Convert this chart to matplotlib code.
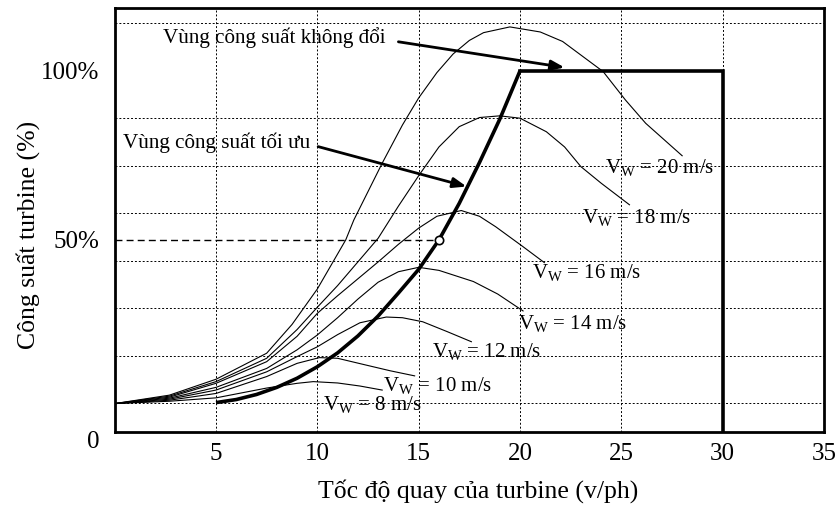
import matplotlib
matplotlib.use("Agg")
import matplotlib.pyplot as plt

plt.rcParams['font.family'] = ['Liberation Serif', 'DejaVu Serif']
plt.rcParams['mathtext.fontset'] = 'custom'
plt.rcParams['mathtext.rm'] = 'Liberation Serif'
plt.rcParams['mathtext.it'] = 'Liberation Serif:italic'

# --- turbine power curves (percent of rated power) ---
v8_x = [0, 2.7, 5, 7.5, 9, 9.8, 11, 12.1, 13.2]
v8_y = [1.6, 2.3, 3.3, 6.2, 7.6, 8.1, 7.7, 6.8, 5.6]

v10_x = [0, 2.7, 5, 7.5, 9, 10.1, 11, 12.4, 13.6, 14.8]
v10_y = [1.6, 2.6, 4.6, 9.6, 13.5, 15.2, 15.0, 13.0, 11.3, 9.8]

v12_x = [0, 2.7, 5, 7.5, 9, 10, 11, 12.1, 13.4, 14.2, 15.2, 16.4, 17.6]
v12_y = [1.6, 2.9, 5.6, 11.0, 15.5, 18.4, 22.0, 25.5, 27.2, 27.0, 25.8, 22.9, 19.9]

v14_x = [0, 2.7, 5, 7.5, 9, 10, 11, 12, 13, 14, 15.0, 16.0, 17.7, 18.9, 20.15]
v14_y = [1.6, 3.2, 6.4, 12.0, 17.5, 21.9, 27.0, 32.5, 37.5, 40.6, 41.9, 41.0, 37.7, 34.0, 29.0]

v16_x = [0, 2.7, 5, 7.5, 9, 10, 11, 12, 13, 14, 15, 15.9, 17.1, 18, 18.8, 20.15, 21.2]
v16_y = [1.6, 3.5, 7.6, 14.0, 21.5, 28.3, 33.5, 38.5, 43.5, 48.7, 53.5, 57.0, 58.7, 57.0, 53.9, 48.0, 43.3]

v18_x = [0, 2.7, 5, 7.5, 9, 10, 11, 12, 13, 14, 15, 16, 17, 18, 19, 20, 21.3, 22.2, 23.0, 24, 25.4]
v18_y = [1.6, 3.8, 8.1, 15.0, 23.5, 30.1, 36.5, 43.5, 50.5, 60.0, 69.0, 77.5, 83.5, 86.2, 86.7, 86, 82, 77.5, 71.7, 66.8, 60.4]

v20_x = [0, 2.7, 5, 7.5, 8.75, 10, 11.4, 11.8, 13.2, 14.2, 15, 15.9, 16.7, 17.5, 18.2, 19.5, 21, 22.1, 24.1, 25.2, 26.2, 28.0]
v20_y = [1.6, 4.1, 8.8, 16.5, 25.0, 35.5, 50.0, 55.9, 72.7, 84.0, 92.0, 99.5, 105.0, 109.0, 111.3, 113, 111.5, 108.7, 99.8, 91.4, 84.5, 74.9]

curves = [(v8_x, v8_y), (v10_x, v10_y), (v12_x, v12_y), (v14_x, v14_y),
          (v16_x, v16_y), (v18_x, v18_y), (v20_x, v20_y)]
speed_labels = ['8', '10', '12', '14', '16', '18', '20']

# optimal power curve and constant power region
opt_x = [5, 6, 7, 8, 9, 10, 11, 12, 13, 14, 15, 16, 17, 18, 19, 20]
opt_y = [1.9, 2.8, 4.3, 6.4, 9.1, 12.5, 16.6, 21.6, 27.5, 34.3, 41.3, 50.0, 60.8, 72.9, 85.7, 100]
const_x = [20, 30, 30]
const_y = [100, 100, -6.8]
rated_pt = (16, 50)

x_ticks = [5, 10, 15, 20, 25, 30, 35]
y_ticks = [50, 100]
y_ticklabels = ['50%', '100%']
y_grid = [1.65, 15.7, 29.75, 43.8, 57.85, 71.9, 85.95, 100, 114.05]

fig = plt.figure(figsize=(8.37, 5.08), dpi=100)
ax = fig.add_axes([0.137, 0.1496, 0.8475, 0.8347])

for cx, cy in curves:
    ax.plot(cx, cy, color='k', lw=0.8, zorder=3)

ax.plot(opt_x, opt_y, color='k', lw=2.6, solid_capstyle='butt', zorder=4)
ax.plot(const_x, const_y, color='k', lw=2.6, solid_joinstyle='miter', zorder=4)
ax.plot([0, rated_pt[0]], [rated_pt[1], rated_pt[1]], color='k', lw=1.0,
        dashes=(5, 3), zorder=3)
ax.plot(*rated_pt, marker='o', ms=6, mfc='white', mec='k', mew=1.2, zorder=5)

ax.set_xlim(0, 35)
ax.set_ylim(-6.8, 118.6)
ax.set_xticks(x_ticks)
ax.set_yticks(y_ticks)
ax.set_yticklabels(y_ticklabels)
ax.set_yticks(y_grid, minor=True)
ax.tick_params(axis='both', which='both', length=0, labelsize=18)
ax.tick_params(axis='x', pad=8)
ax.tick_params(axis='y', pad=11)
ax.grid(True, axis='x', which='major', color='k', lw=0.7, ls=(0, (2, 2)), zorder=1)
ax.grid(True, axis='y', which='minor', color='k', lw=0.7, ls=(0, (2, 2)), zorder=1)
ax.text(-0.021, -0.024, '0', transform=ax.transAxes, fontsize=18,
        ha='right', va='center')

for sp in ax.spines.values():
    sp.set_linewidth(2.0)

ax.set_xlabel('Tốc độ quay của turbine (v/ph)', fontsize=18.5)
ax.xaxis.set_label_coords(0.512, -0.11)
ax.set_ylabel('Công suất turbine (%)', fontsize=18.5)
ax.yaxis.set_label_coords(-0.105, 0.465)

# wind speed labels
label_pos = [(10.28, 1.2), (13.24, 7.1), (15.65, 16.9), (19.9, 25.4),
             (20.58, 40.5), (23.05, 56.5), (24.18, 71.3)]
for s, (lx, ly) in zip(speed_labels, label_pos):
    ax.text(lx, ly, 'V$_{\\mathrm{W}}$ = ' + s + ' m/s', fontsize=15,
            ha='left', va='center', zorder=6)

# region annotations
ax.text(2.39, 110, 'Vùng công suất không đổi', fontsize=15.2, ha='left', va='center')
ax.annotate('', xy=(22.2, 101), xytext=(14.0, 108.6),
            arrowprops=dict(arrowstyle='-|>,head_length=0.8,head_width=0.3',
                            lw=2, color='k', shrinkA=0, shrinkB=0))
ax.text(0.42, 78.7, 'Vùng công suất tối ưu', fontsize=15.2, ha='left', va='center')
ax.annotate('', xy=(17.36, 65.8), xytext=(10.04, 77.6),
            arrowprops=dict(arrowstyle='-|>,head_length=0.8,head_width=0.3',
                            lw=2, color='k', shrinkA=0, shrinkB=0))

fig.savefig('out.png', dpi=100)
